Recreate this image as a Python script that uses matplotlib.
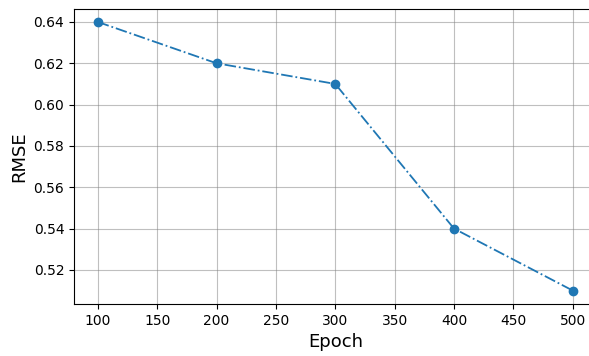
import matplotlib
matplotlib.use("Agg")
from matplotlib import pyplot as plt

epochs = [100, 200, 300, 400, 500]
rmse = [0.64, 0.62, 0.61, 0.54, 0.51]

fig = plt.figure(figsize=(5.89, 3.56), dpi=100)
# axes runs past the right edge, as in the cropped reference
ax = fig.add_axes([74 / 589, 1 - 304 / 356, 522.5 / 589, 295.5 / 356])
ax.plot(epochs, rmse, linestyle="-.", marker="o", color="tab:blue", linewidth=1.3, markersize=6)
ax.set_xlim(80, 520)
ax.set_ylim(0.5035, 0.6465)
ax.set_xticks([100, 150, 200, 250, 300, 350, 400, 450, 500])
ax.set_yticks([0.52, 0.54, 0.56, 0.58, 0.60, 0.62, 0.64])
ax.tick_params(labelsize=10)
ax.grid(True, color="gray", alpha=0.5, linewidth=0.8)
ax.set_xlabel("Epoch", fontsize=13)
ax.set_ylabel("RMSE", fontsize=13)

fig.savefig("out.png", dpi=100)
